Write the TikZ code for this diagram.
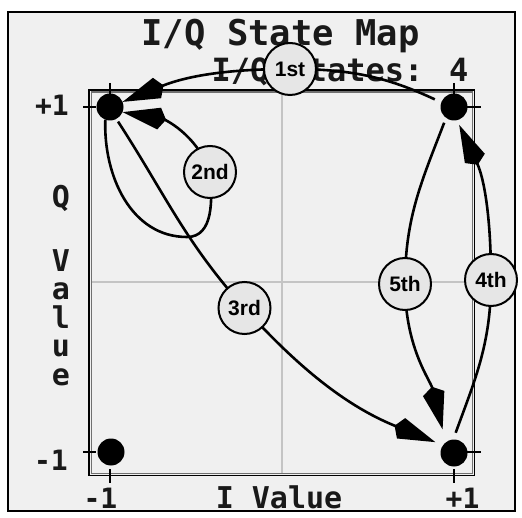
\documentclass[tikz,border=0pt]{standalone}
\usepackage{fontspec}
\setmainfont{Liberation Sans}
\newfontfamily\pixfont{DejaVu Sans Mono}
\usetikzlibrary{arrows.meta}
\definecolor{bgc}{HTML}{F0F0F0}
\definecolor{circfill}{HTML}{E6E6E6}
\definecolor{gridc}{HTML}{C4C4C4}
\definecolor{boxgray}{HTML}{707070}
\pgfdeclarelayer{back}
\pgfdeclarelayer{mid}
\pgfsetlayers{back,mid,main}
\begin{document}
\begin{tikzpicture}[x=1pt,y=1pt,
  dot/.style={circle,fill=black,minimum size=27pt,inner sep=0pt},
  lab/.style={circle,draw=black,line width=2pt,fill=circfill,minimum size=52pt,inner sep=0pt,font=\fontsize{21}{21}\selectfont\bfseries},
  conn/.style={line width=2.6pt,-{Kite[length=44pt,width=22pt,inset=7pt]}},
  tickline/.style={line width=1.5pt},
  pix/.style={font=\pixfont\bfseries,inner sep=0pt,anchor=base,text=black!90},
]
\path[use as bounding box] (0,0) rectangle (522,-518);
\begin{pgfonlayer}{back}
\fill[white] (0,0) rectangle (522,-518);
\draw[line width=2pt,fill=bgc] (8,-12.5) rectangle (515,-511);
\draw[gridc,line width=2pt] (282,-92.5) -- (282,-473);
\draw[gridc,line width=2pt] (92,-282) -- (472,-282);
\draw[line width=1.4pt] (89,-90) rectangle (474.5,-475.5);
\draw[line width=1.4pt,boxgray] (91.2,-92.2) rectangle (472.3,-473.3);
\draw[tickline] (110,-83) -- (110,-97);
\draw[tickline] (454,-83) -- (454,-97);
\draw[tickline] (110,-469) -- (110,-483);
\draw[tickline] (454,-469) -- (454,-483);
\draw[tickline] (83,-107) -- (96,-107);
\draw[tickline] (83,-452) -- (96,-452);
\draw[tickline] (467,-107) -- (481,-107);
\draw[tickline] (467,-452) -- (481,-452);
\node[pix,font=\pixfont\bfseries\fontsize{35.5}{36}\selectfont] (title) at (280.5,-46) {I/Q State Map};
\node[pix,font=\pixfont\bfseries\fontsize{32}{32}\selectfont] (states) at (340,-82) {I/Q States: 4};
\node[pix,font=\pixfont\bfseries\fontsize{30}{30}\selectfont] (ival) at (279,-508) {I Value};
\node[pix,font=\pixfont\bfseries\fontsize{28}{28}\selectfont] (yp) at (52,-116) {+1};
\node[pix,font=\pixfont\bfseries\fontsize{28}{28}\selectfont] (ym) at (51,-470) {-1};
\node[pix,font=\pixfont\bfseries\fontsize{28}{28}\selectfont] (xm) at (100.5,-508) {-1};
\node[pix,font=\pixfont\bfseries\fontsize{28}{28}\selectfont] (xp) at (462.5,-508) {+1};
\node[pix,font=\pixfont\bfseries\fontsize{30}{30}\selectfont] (q1) at (61,-208) {Q};
\node[pix,font=\pixfont\bfseries\fontsize{30}{30}\selectfont] (q2) at (61,-272) {V};
\node[pix,font=\pixfont\bfseries\fontsize{30}{30}\selectfont] (q3) at (61,-300) {a};
\node[pix,font=\pixfont\bfseries\fontsize{30}{30}\selectfont] (q4) at (61,-329) {l};
\node[pix,font=\pixfont\bfseries\fontsize{30}{30}\selectfont] (q5) at (61,-357) {u};
\node[pix,font=\pixfont\bfseries\fontsize{30}{30}\selectfont] (q6) at (61,-386) {e};
\end{pgfonlayer}
% state dots
\node[dot] (A) at (110,-107) {};
\node[dot] (B) at (454,-107) {};
\node[dot] (C) at (111,-452) {};
\node[dot] (D) at (454,-453) {};
% order labels
\node[lab] (c1) at (290,-69) {1st};
\node[lab] (c2) at (210,-172) {2nd};
\node[lab] (c3) at (244.5,-308) {3rd};
\node[lab] (c4) at (491,-280) {4th};
\node[lab] (c5) at (405,-284) {5th};
\coordinate (l2) at (187,-237);
\begin{pgfonlayer}{mid}
\draw[conn,shorten <=7pt] (B.160) to[out=155,in=0] (c1.center) to[out=180,in=22] (A.22);
\draw[conn] (A.250) to[out=268,in=180] (l2) to[out=0,in=-85] (c2.center) to[out=110,in=-10] (A.-22);
\draw[conn,shorten <=3pt,shorten >=8pt] (A.-62) to[out=-57,in=132] (c3.center) to[out=-48,in=158] (D.145);
\draw[conn,shorten <=7pt,shorten >=5pt] (D.93) to[out=70,in=-90] (c4.center) to[out=90,in=-65] (B.-77);
\draw[conn,shorten <=5pt,shorten >=13pt] (B.-126) to[out=-111,in=90] (c5.center) to[out=-90,in=104] (D.127);
\end{pgfonlayer}
\end{tikzpicture}
\end{document}
